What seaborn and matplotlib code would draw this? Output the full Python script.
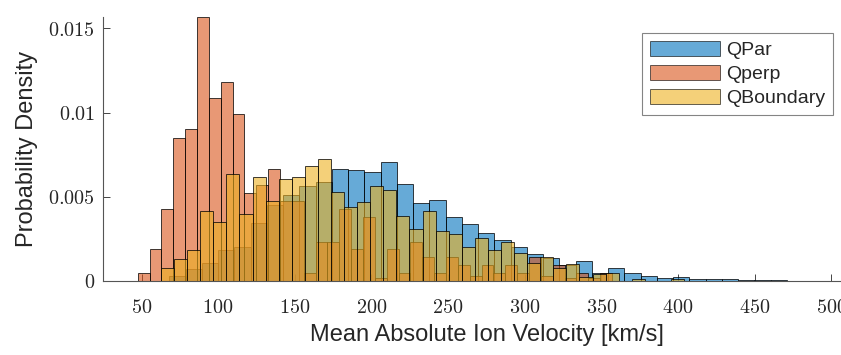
import numpy as np
import pandas as pd
import matplotlib
matplotlib.use("Agg")
import matplotlib.pyplot as plt
import seaborn as sns
from matplotlib.patches import Patch

# ---------------- data (probability density per bin) ----------------
series_names = ["QPar", "Qperp", "QBoundary"]

qpar_first_edge = 68.1
qpar_bin_width = 10.6
qpar_density = [0.0003, 0.0007, 0.00107, 0.00184, 0.00204, 0.00343, 0.0045, 0.0051,
                0.00566, 0.00586, 0.00665, 0.00659, 0.00648, 0.00706, 0.00574, 0.00465,
                0.00480, 0.00380, 0.00338, 0.00283, 0.00243, 0.00200, 0.00158, 0.00135,
                0.00095, 0.00119, 0.00046, 0.00075, 0.00050, 0.00032, 0.00020, 0.00026,
                0.00014, 0.00010, 0.00010, 0.00003, 0.00003, 0.00003]

qperp_first_edge = 47.5
qperp_bin_width = 7.735
qperp_density = [0.00046, 0.0019, 0.00426, 0.00851, 0.00901, 0.01566, 0.01089, 0.01184,
                 0.00994, 0.00523, 0.0057, 0.00663, 0.00477, 0.00477, 0.00046, 0.00233,
                 0.00233, 0.00426, 0.0019, 0.00378, 0.0002, 0.0019, 0.00046, 0.00233,
                 0.00141, 0.00046, 0.00141, 0.00095, 0.0003, 0.00095, 0.00046, 0.00095,
                 0.00046, 0.00141, 0.0003, 0.00095, 0.0002, 0.0005, 0.0002, 0.0005]

qbound_first_edge = 62.7
qbound_bin_width = 8.53
qbound_density = [0.00079, 0.00131, 0.00184, 0.00414, 0.00349, 0.00634, 0.0040, 0.00619,
                  0.00477, 0.00606, 0.00619, 0.00685, 0.00723, 0.0053, 0.00438, 0.00467,
                  0.00566, 0.0054, 0.00386, 0.00309, 0.00414, 0.00297, 0.00281, 0.00204,
                  0.00257, 0.00184, 0.00233, 0.00168, 0.00105, 0.00141, 0.00075, 0.00101,
                  0.00026, 0.00042, 0.0005, 0.0, 0.0001, 0.0, 0.0, 0.0001]

x_ticks = [50, 100, 150, 200, 250, 300, 350, 400, 450, 500]
y_ticks = [0, 0.005, 0.01, 0.015]
y_tick_labels = ["0", "0.005", "0.01", "0.015"]

x_label = "Mean Absolute Ion Velocity [km/s]"
y_label = "Probability Density"

# ---------------- style ----------------
sns.set_style("white")
plt.rcParams["font.family"] = ["Liberation Sans", "DejaVu Sans"]
plt.rcParams["mathtext.fontset"] = "cm"

colors = [(0.0, 0.447, 0.741), (0.850, 0.325, 0.098), (0.929, 0.694, 0.125)]
face_alpha = 0.6
axis_color = "#262626"

W, H = 841, 355
fig = plt.figure(figsize=(W / 100, H / 100), dpi=100)
ax_left, ax_right, ax_top, ax_bottom = 103.2, 869.7, 17.3, 281.0
ax = fig.add_axes([ax_left / W, (H - ax_bottom) / H,
                   (ax_right - ax_left) / W, (ax_bottom - ax_top) / H])

series = [
    (qpar_first_edge, qpar_bin_width, qpar_density),
    (qperp_first_edge, qperp_bin_width, qperp_density),
    (qbound_first_edge, qbound_bin_width, qbound_density),
]

for (first, width, dens), col in zip(series, colors):
    edges = (first + width * np.arange(len(dens) + 1)).tolist()
    centers = [e + width / 2 for e in edges[:-1]]
    df = pd.DataFrame({"v": centers, "d": dens})
    n_before = len(ax.patches)
    sns.histplot(data=df, x="v", weights="d", bins=edges, stat="count",
                 ax=ax, color=col, alpha=face_alpha, edgecolor="black", linewidth=0.7)
    for p in ax.patches[n_before:]:
        p.set_alpha(None)
        p.set_facecolor((*col, face_alpha))
        p.set_edgecolor((0, 0, 0, 0.75))

ax.set_xlim(25, 525)
ax.set_ylim(0, 0.01566)

ax.set_xticks(x_ticks)
ax.set_xticklabels([f"${t}$" for t in x_ticks])
ax.set_yticks(y_ticks)
ax.set_yticklabels([f"${t}$" for t in y_tick_labels])
ax.tick_params(direction="in", length=5, width=0.6, colors=axis_color,
               labelsize=14.5, top=False, right=False, left=True, bottom=True)
ax.tick_params(axis="x", pad=12)
ax.tick_params(axis="y", pad=6)

for s in ["top", "right"]:
    ax.spines[s].set_visible(False)
for s in ["left", "bottom"]:
    ax.spines[s].set_color("#555555")
    ax.spines[s].set_linewidth(0.8)

ax.set_xlabel(x_label, fontsize=17, color=axis_color, labelpad=5)
ax.set_ylabel(y_label, fontsize=17, color=axis_color, labelpad=7)

handles = [Patch(facecolor=(*c, face_alpha), edgecolor=(0, 0, 0, 0.6), linewidth=0.7)
           for c in colors]
leg = fig.legend(handles, series_names, loc="upper right",
                 bbox_to_anchor=(833 / W, 1 - 33 / H), bbox_transform=fig.transFigure,
                 fontsize=14, frameon=True, fancybox=False, borderaxespad=0,
                 handlelength=3.6, handleheight=0.8, handletextpad=0.3,
                 labelspacing=0.3, borderpad=0.4)
leg.get_frame().set_edgecolor("#666666")
leg.get_frame().set_linewidth(0.8)

fig.savefig("out.png", dpi=100)
